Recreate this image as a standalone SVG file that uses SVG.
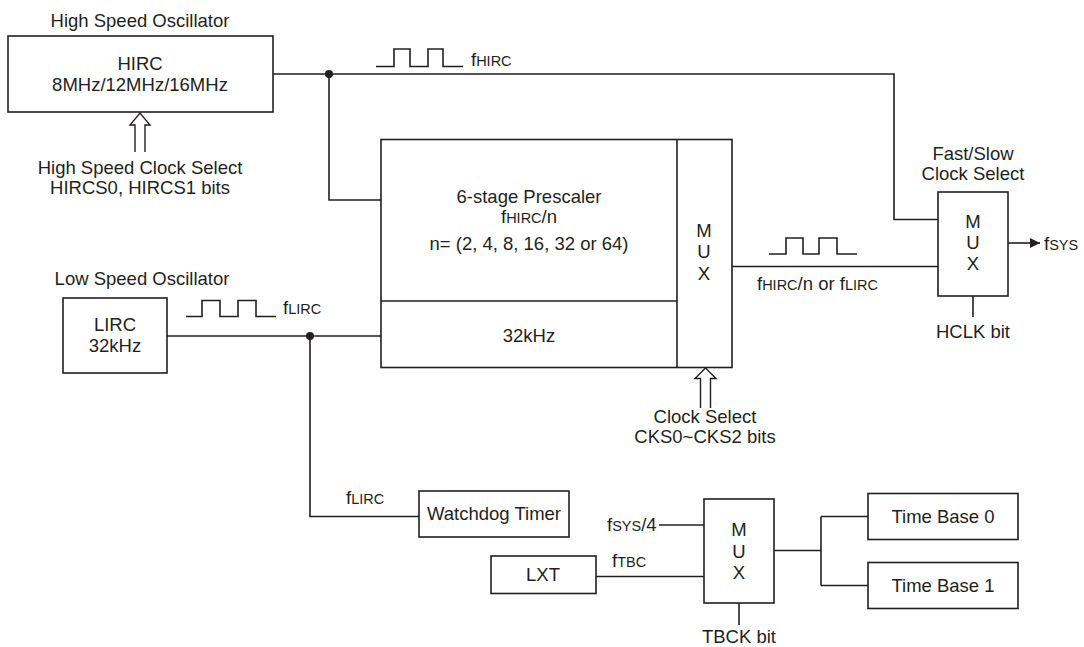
<svg xmlns="http://www.w3.org/2000/svg" width="1084" height="647" viewBox="0 0 1084 647">
<style>
text{font-family:"Liberation Sans",Arial,sans-serif;font-size:18.5px;fill:#231f20}
.m{text-anchor:middle}
.s{font-size:14.5px}
.box{fill:#fff;stroke:#231f20;stroke-width:1.6}
.ln{fill:none;stroke:#231f20;stroke-width:1.6}
.hol{fill:#fff;stroke:#231f20;stroke-width:1.4}
</style>
<defs>
<marker id="ah" markerWidth="10" markerHeight="10" refX="10" refY="5" orient="auto" markerUnits="userSpaceOnUse">
<path d="M0,0 L10,5 L0,10 Z" fill="#231f20"/>
</marker>
</defs>
<rect width="1084" height="647" fill="#fff"/>

<g id="connectors">
<path class="ln" d="M273,74 H894 V219.5 H938"/>
<path class="ln" d="M329,74 V200 H381"/>
<circle cx="329" cy="74" r="4" fill="#231f20"/>
<path class="ln" d="M167,336 H381"/>
<path class="ln" d="M310,336 V516.5 H419"/>
<circle cx="310" cy="336" r="4" fill="#231f20"/>
<path class="ln" d="M732,266.5 H938"/>
<path class="ln" d="M1008,243 H1040" marker-end="url(#ah)"/>
<path class="ln" d="M973,296 V317"/>
<path class="ln" d="M659,525 H704"/>
<path class="ln" d="M596,576.5 H704"/>
<path class="ln" d="M739,603 V625"/>
<path class="ln" d="M774,550.5 H821 M821,516.5 V585.5 M821,516.5 H868 M821,585.5 H868"/>
<path class="ln" d="M376,66.5 H394 V49 H410 V66.5 H428 V49 H443 V66.5 H463"/>
<path class="ln" d="M186,316.5 H202 V300.5 H220 V316.5 H238 V300.5 H256 V316.5 H276"/>
<path class="ln" d="M769,254 H786 V238 H803 V254 H819 V238 H837 V254 H857"/>
<path class="hol" d="M135,152 V125 H130 L140,113 L150,125 H145 V152"/>
<path class="hol" d="M700.5,408 V378.5 H695 L705.5,368 L716,378.5 H710.5 V408"/>
</g>

<g id="hirc">
<text class="m" x="140" y="27">High Speed Oscillator</text>
<rect class="box" x="8" y="36" width="265" height="76"/>
<text class="m" x="140" y="70">HIRC</text>
<text class="m" x="140" y="91">8MHz/12MHz/16MHz</text>
</g>
<g id="hirc-select">
<text class="m" x="140" y="174">High Speed Clock Select</text>
<text class="m" x="140" y="194">HIRCS0, HIRCS1 bits</text>
</g>
<g id="fhirc-label">
<text x="471" y="66">f<tspan class="s">HIRC</tspan></text>
</g>

<g id="lirc">
<text class="m" x="142" y="285">Low Speed Oscillator</text>
<rect class="box" x="63" y="298" width="104" height="75"/>
<text class="m" x="115" y="331">LIRC</text>
<text class="m" x="115" y="352">32kHz</text>
</g>
<g id="flirc-label">
<text x="283" y="314">f<tspan class="s">LIRC</tspan></text>
</g>

<g id="prescaler">
<rect class="box" x="381" y="139.5" width="351" height="228"/>
<path class="ln" d="M677,139.5 V367.5 M381,301 H677"/>
<text class="m" x="529" y="203">6-stage Prescaler</text>
<text class="m" x="529" y="223">f<tspan class="s">HIRC</tspan>/n</text>
<text class="m" x="529" y="250">n= (2, 4, 8, 16, 32 or 64)</text>
<text class="m" x="529" y="342">32kHz</text>
<text class="m" x="704" y="237">M</text>
<text class="m" x="704" y="258">U</text>
<text class="m" x="704" y="280">X</text>
</g>
<g id="clock-select">
<text class="m" x="705" y="423">Clock Select</text>
<text class="m" x="705" y="443">CKS0~CKS2 bits</text>
</g>
<g id="mux-out-label">
<text x="757" y="290">f<tspan class="s">HIRC</tspan>/n or f<tspan class="s">LIRC</tspan></text>
</g>

<g id="fast-slow-mux">
<text class="m" x="973" y="160">Fast/Slow</text>
<text class="m" x="973" y="180">Clock Select</text>
<rect class="box" x="938" y="192" width="70" height="104"/>
<text class="m" x="973" y="228">M</text>
<text class="m" x="973" y="249">U</text>
<text class="m" x="973" y="270">X</text>
<text class="m" x="973" y="338">HCLK bit</text>
<text x="1044" y="250">f<tspan class="s">SYS</tspan></text>
</g>

<g id="watchdog">
<text x="346" y="504">f<tspan class="s">LIRC</tspan></text>
<rect class="box" x="419" y="491" width="150" height="46"/>
<text class="m" x="494" y="520">Watchdog Timer</text>
</g>

<g id="lxt">
<rect class="box" x="491" y="556" width="105" height="37.5"/>
<text class="m" x="543" y="581">LXT</text>
<text x="612" y="567">f<tspan class="s">TBC</tspan></text>
</g>

<g id="tb-mux">
<text x="607" y="531">f<tspan class="s">SYS</tspan>/4</text>
<rect class="box" x="704" y="499" width="70" height="104"/>
<text class="m" x="739" y="536">M</text>
<text class="m" x="739" y="558">U</text>
<text class="m" x="739" y="579">X</text>
<text class="m" x="739" y="643">TBCK bit</text>
</g>

<g id="timebase0">
<rect class="box" x="868" y="493.5" width="150" height="46"/>
<text class="m" x="943" y="523">Time Base 0</text>
</g>
<g id="timebase1">
<rect class="box" x="868" y="562.5" width="150" height="46"/>
<text class="m" x="943" y="592">Time Base 1</text>
</g>
</svg>
